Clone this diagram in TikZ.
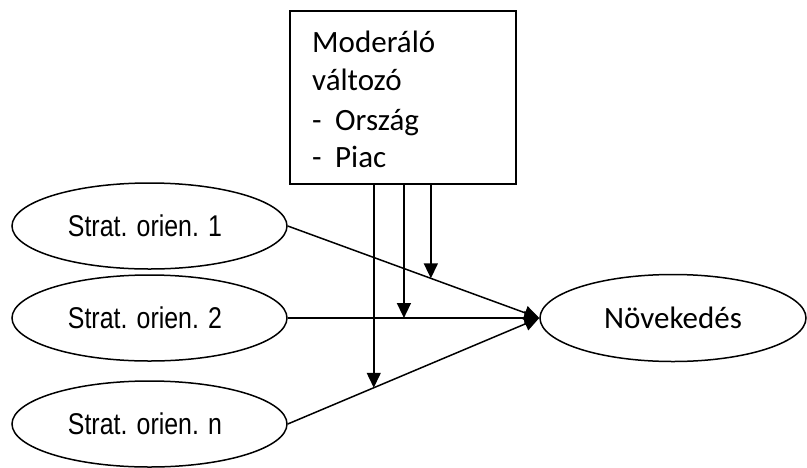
\documentclass[tikz,border=0pt]{standalone}
\usepackage{fontspec}
\setmainfont{Carlito}
\newfontfamily\narrowsans[FakeStretch=0.83]{Liberation Sans}
\usetikzlibrary{shapes.geometric,arrows.meta,calc}

\tikzset{
  oval/.style={draw, ellipse, line width=1.5pt, minimum width=275pt,
    minimum height=86pt, inner sep=0pt},
  strat/.style={oval, font=\narrowsans\fontsize{30}{34}\selectfont,
    execute at end node=\kern9pt},
  modbox/.style={draw, rectangle, line width=1.8pt, minimum width=226pt,
    minimum height=173pt, inner sep=0pt, anchor=north west},
  modline/.style={anchor=base west, inner sep=0pt,
    font=\fontsize{31}{38}\selectfont},
  link/.style={line width=1.5pt, -{Triangle[length=15pt,width=14pt]}}
}

\begin{document}
\begin{tikzpicture}[x=1pt, y=-1pt]
  \useasboundingbox (0,0) rectangle (807,467);

  % moderator box
  \node[modbox] (mod) at (289,10) {};
  \node[modline] (mt1) at (312,52) {Moderáló};
  \node[modline] (mt2) at (312,90) {változó};
  \node[modline] (mt3) at (312,130) {\makebox[23pt][l]{-}Ország};
  \node[modline] (mt4) at (312,167) {\makebox[23pt][l]{-}Piac};

  % strategic orientations and outcome
  \node[strat] (s1) at (149.5,226) {Strat. orien. 1};
  \node[strat] (s2) at (149.5,318) {Strat. orien. 2};
  \node[strat] (s3) at (149.5,424) {Strat. orien. n};
  \node[oval, minimum width=266pt, minimum height=87pt,
        font=\fontsize{31}{36}\selectfont] (g) at (673,318) {Növekedés};

  % main effects
  \draw[link] (s1.east) -- (g.west);
  \draw[link] (s2.east) -- (g.west);
  \draw[link] (s3.east) -- (g.west);

  % moderating effects onto the paths
  \coordinate (h1) at ($(s1.east)!0.569!(g.west)$);
  \coordinate (h2) at ($(s2.east)!0.462!(g.west)$);
  \coordinate (h3) at ($(s3.east)!0.342!(g.west)$);
  \draw[link] (h1 |- mod.south) -- (h1);
  \draw[link] (h2 |- mod.south) -- (h2);
  \draw[link] (h3 |- mod.south) -- (h3);
\end{tikzpicture}
\end{document}
